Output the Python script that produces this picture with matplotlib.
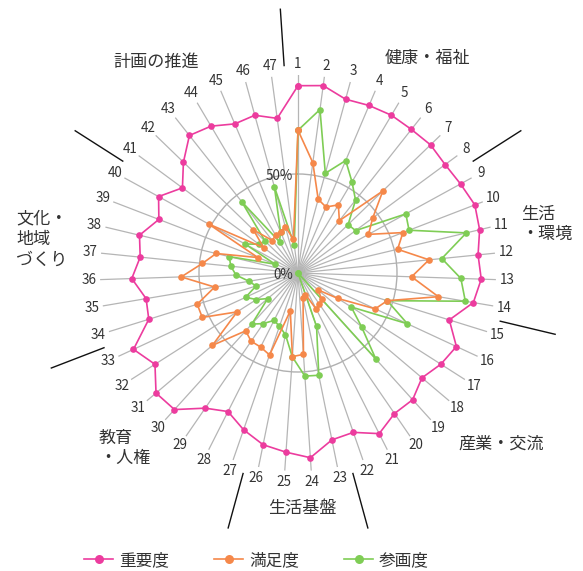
import numpy as np
import matplotlib
matplotlib.use('Agg')
import matplotlib.pyplot as plt
from matplotlib import transforms

plt.rcParams['font.family'] = ['Noto Sans CJK JP', 'DejaVu Sans']

categories = [str(i) for i in range(1, 48)]

importance = [94.6, 95.5, 91.0, 91.9, 92.6, 92.4, 93.1, 92.3, 93.6, 95.7,
              94.3, 91.4, 92.6, 89.8, 80.0, 88.2, 85.6, 82.0, 86.3, 86.1,
              90.9, 85.2, 86.0, 93.5, 90.7, 88.5, 83.8, 78.4, 82.8, 93.0,
              93.9, 85.7, 91.6, 78.9, 77.8, 84.0, 80.1, 82.3, 75.3, 80.3,
              72.5, 80.5, 88.5, 86.2, 81.8, 82.6, 78.8]

satisfaction = [72.1, 56.2, 38.6, 36.2, 40.0, 33.7, 59.6, 46.9, 40.6, 56.8,
                51.7, 66.5, 57.4, 71.9, 47.2, 43.0, 23.9, 13.2, 18.0, 19.0,
                20.6, 11.5, 12.8, 41.2, 42.3, 19.5, 43.8, 41.9, 41.8, 39.4,
                56.6, 36.5, 53.3, 53.3, 42.7, 59.0, 48.5, 42.5, 21.7, 51.5,
                21.6, 31.3, 20.9, 22.2, 22.6, 24.2, 17.2]

participation = [72.1, 83.3, 52.2, 61.7, 53.5, 46.9, 35.2, 36.1, 62.1, 60.1,
                 87.4, 73.0, 82.3, 85.7, 47.2, 60.9, 31.9, 42.0, 58.6, 0.0,
                 0.0, 28.6, 52.7, 52.2, 42.5, 31.8, 28.5, 26.8, 31.0, 34.8,
                 20.0, 24.9, 29.2, 22.2, 25.1, 31.3, 34.1, 35.7, 12.4, 30.5,
                 24.5, 23.1, 46.0, 18.3, 22.6, 45.1, 14.3]

series_names = ['重要度', '満足度', '参画度']
series_colors = ['#ec3c9e', '#f5884a', '#7fcd55']

# group name, first category index (1-based)
group_names = ['健康・福祉', '生活\n・環境', '産業・交流', '生活基盤',
               '教育\n・人権', '文化・\n地域\nづくり', '計画の推進']
group_starts = [1, 9, 15, 23, 27, 34, 41]

radial_ticks = [0, 50]
radial_labels = ['0%', '50%']

W, H = 583, 571
fig = plt.figure(figsize=(W / 100, H / 100), dpi=100)
cx, cy, R = 298, 273, 198
ax = fig.add_axes([(cx - R) / W, (H - cy - R) / H, 2 * R / W, 2 * R / H],
                  projection='polar')
ax.set_theta_zero_location('N')
ax.set_theta_direction(-1)
ax.set_ylim(0, 100)
ax.patch.set_alpha(0)

n = len(categories)
step = 2 * np.pi / n
theta = np.arange(n) * step
ax.set_xticks(theta)
ax.set_xticklabels([])
ax.set_yticks([50])
ax.set_yticklabels([])
ax.xaxis.grid(True, color='#b5b5b5', linewidth=0.9)
ax.yaxis.grid(True, color='#b0b0b0', linewidth=1.0)
ax.spines['polar'].set_visible(False)
ax.tick_params(length=0)

tc = np.append(theta, theta[0])
handles = {}
for name, vals, col, z in [(series_names[0], importance, series_colors[0], 3),
                           (series_names[2], participation, series_colors[2], 4),
                           (series_names[1], satisfaction, series_colors[1], 5)]:
    v = np.append(vals, vals[0])
    ln, = ax.plot(tc, v, color=col, linewidth=1.2, marker='o', markersize=4.8,
                  markeredgewidth=0, zorder=z, clip_on=False)
    handles[name] = ln

# category labels
for t, lab in zip(theta, categories):
    ax.text(t, 105.6, lab, ha='center', va='center', fontsize=9.7,
            color='#333333', clip_on=False)

# group separators
for s in group_starts:
    tb = (s - 1 - 0.5) * step
    ax.plot([tb, tb], [105, 133.5], color='#111111', linewidth=1.0,
            clip_on=False, zorder=2)

# radial labels
trans = transforms.offset_copy(ax.transData, fig=fig, x=-5, y=-2, units='dots')
for r, lab in zip(radial_ticks, radial_labels):
    ax.text(0, r, lab, transform=trans, ha='right', va='center', fontsize=9.7,
            color='#333333', zorder=6)

# group labels (pixel positions)
group_pos = [(385, 58, 'left'), (521, 224, 'left'), (458, 444, 'left'),
             (268, 508, 'left'), (99, 448, 'left'), (16, 239, 'left'),
             (113, 62, 'left')]
for name, (px, py, ha) in zip(group_names, group_pos):
    fig.text(px / W, 1 - py / H, name, ha=ha, va='center', fontsize=12.3,
             color='#333333', linespacing=1.2)

fig.legend([handles[s] for s in series_names], series_names, loc='center',
           bbox_to_anchor=(256.5 / W, 1 - 560.7 / H), ncol=3, frameon=False,
           fontsize=12, handlelength=1.75, handletextpad=0.35,
           columnspacing=2.7, labelcolor='#333333', markerscale=1.35)

fig.savefig('out.png', dpi=100)
